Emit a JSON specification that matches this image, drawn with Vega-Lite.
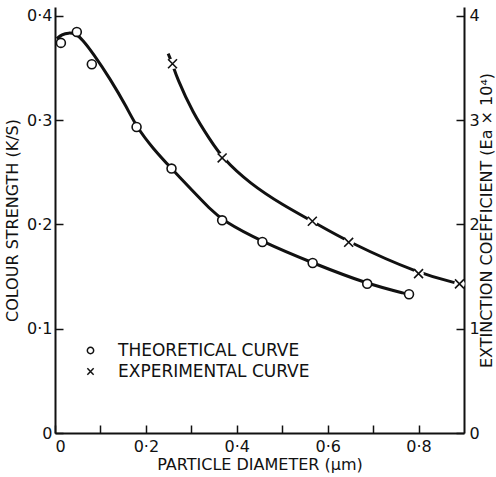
{
  "$schema": "https://vega.github.io/schema/vega-lite/v6.json",
  "width": 409,
  "height": 426,
  "autosize": {"type": "none"},
  "padding": {"left": 55, "top": 7, "right": 32, "bottom": 44},
  "background": "white",
  "config": {
    "view": {"stroke": null},
    "font": "DejaVu Sans",
    "axis": {
      "domainColor": "#111",
      "domainWidth": 2,
      "tickColor": "#111",
      "tickWidth": 1.5,
      "tickSize": -8,
      "grid": false,
      "labelFont": "DejaVu Sans",
      "labelFontSize": 16,
      "labelColor": "#111",
      "titleFont": "DejaVu Sans",
      "titleFontSize": 16,
      "titleFontWeight": "normal",
      "titleColor": "#111"
    },
    "legend": {
      "labelFont": "DejaVu Sans",
      "labelFontSize": 17,
      "labelColor": "#111",
      "labelLimit": 400
    }
  },
  "datasets": {
    "theoretical_points": [
      {"d": 0.013, "ks": 0.374},
      {"d": 0.048, "ks": 0.3845},
      {"d": 0.081, "ks": 0.3535},
      {"d": 0.1795, "ks": 0.2934},
      {"d": 0.2564, "ks": 0.2535},
      {"d": 0.3678, "ks": 0.2039},
      {"d": 0.4564, "ks": 0.1831},
      {"d": 0.567, "ks": 0.163},
      {"d": 0.687, "ks": 0.143},
      {"d": 0.779, "ks": 0.133}
    ],
    "theoretical_curve": [
      {"d": 0.004, "ks": 0.378},
      {"d": 0.015, "ks": 0.382},
      {"d": 0.03, "ks": 0.3838},
      {"d": 0.045, "ks": 0.3828},
      {"d": 0.06, "ks": 0.3775},
      {"d": 0.0842, "ks": 0.3637},
      {"d": 0.121, "ks": 0.3398},
      {"d": 0.1575, "ks": 0.3126},
      {"d": 0.1795, "ks": 0.2934},
      {"d": 0.216, "ks": 0.2725},
      {"d": 0.2564, "ks": 0.2535},
      {"d": 0.304, "ks": 0.2315},
      {"d": 0.3407, "ks": 0.215},
      {"d": 0.3678, "ks": 0.2039},
      {"d": 0.4564, "ks": 0.1831},
      {"d": 0.567, "ks": 0.163},
      {"d": 0.687, "ks": 0.1428},
      {"d": 0.779, "ks": 0.1328},
      {"d": 0.787, "ks": 0.1318}
    ],
    "experimental_points": [
      {"d": 0.2586, "ea": 3.54},
      {"d": 0.3678, "ea": 2.637},
      {"d": 0.5663, "ea": 2.03},
      {"d": 0.6462, "ea": 1.828},
      {"d": 0.8, "ea": 1.528},
      {"d": 0.89, "ea": 1.43}
    ],
    "experimental_curve": [
      {"d": 0.249, "ea": 3.637},
      {"d": 0.2586, "ea": 3.54},
      {"d": 0.2674, "ea": 3.413},
      {"d": 0.304, "ea": 3.062},
      {"d": 0.3407, "ea": 2.815},
      {"d": 0.3678, "ea": 2.637},
      {"d": 0.4286, "ea": 2.391},
      {"d": 0.5018, "ea": 2.183},
      {"d": 0.5663, "ea": 2.03},
      {"d": 0.6462, "ea": 1.828},
      {"d": 0.8, "ea": 1.528},
      {"d": 0.89, "ea": 1.43}
    ]
  },
  "layer": [
    {
      "layer": [
        {
          "data": {"name": "theoretical_curve"},
          "mark": {"type": "line", "interpolate": "basis", "color": "#111", "strokeWidth": 3},
          "encoding": {
            "x": {
              "field": "d", "type": "quantitative",
              "scale": {"domain": [0, 0.9], "nice": false},
              "axis": {
                "title": "PARTICLE DIAMETER (μm)",
                "values": [0, 0.1, 0.2, 0.3, 0.4, 0.5, 0.6, 0.7, 0.8],
                "labelExpr": "datum.value == 0 ? '0' : (round(datum.value * 10) % 2 == 0 ? replace(format(datum.value, '.1f'), '.', '·') : '')",
                "labelPadding": 13,
                "titlePadding": 2
              }
            },
            "y": {
              "field": "ks", "type": "quantitative",
              "scale": {"domain": [0, 0.4084], "nice": false},
              "axis": {
                "orient": "left",
                "title": "COLOUR STRENGTH (K/S)",
                "values": [0, 0.1, 0.2, 0.3, 0.4],
                "labelExpr": "datum.value == 0 ? '0' : replace(format(datum.value, '.1f'), '.', '·')",
                "labelPadding": 11,
                "titlePadding": 6
              }
            }
          }
        },
        {
          "data": {"name": "theoretical_points"},
          "transform": [{"calculate": "'THEORETICAL CURVE'", "as": "series"}],
          "mark": {"type": "point", "filled": true, "fill": "white", "stroke": "#111", "strokeWidth": 1.6, "size": 80, "opacity": 1},
          "encoding": {
            "x": {"field": "d", "type": "quantitative"},
            "y": {"field": "ks", "type": "quantitative"},
            "shape": {
              "field": "series", "type": "nominal",
              "scale": {"domain": ["THEORETICAL CURVE", "EXPERIMENTAL CURVE"], "range": ["circle", "M-1,-1L1,1M-1,1L1,-1"]},
              "legend": {
                "title": null,
                "orient": "none",
                "legendX": 27,
                "legendY": 335,
                "symbolSize": 40,
                "rowPadding": 3,
                "labelOffset": 19,
                "encode": {
                  "symbols": {
                    "update": {
                      "fill": {"value": "white"},
                      "stroke": {"value": "#111"},
                      "strokeWidth": {"value": 1.5},
                      "opacity": {"value": 1}
                    }
                  }
                }
              }
            }
          }
        }
      ]
    },
    {
      "layer": [
        {
          "data": {"name": "experimental_curve"},
          "mark": {"type": "line", "interpolate": "basis", "color": "#111", "strokeWidth": 3},
          "encoding": {
            "x": {"field": "d", "type": "quantitative"},
            "y": {
              "field": "ea", "type": "quantitative",
              "scale": {"domain": [0, 4.084], "nice": false},
              "axis": {
                "orient": "right",
                "title": "EXTINCTION COEFFICIENT (Ea × 10⁴)",
                "titleAngle": -90,
                "values": [0, 1, 2, 3, 4],
                "format": "d",
                "labelPadding": 13,
                "titlePadding": 15
              }
            }
          }
        },
        {
          "data": {"name": "experimental_points"},
          "mark": {"type": "point", "filled": true, "fill": "white", "stroke": null, "size": 110, "shape": "circle", "opacity": 1},
          "encoding": {
            "x": {"field": "d", "type": "quantitative"},
            "y": {"field": "ea", "type": "quantitative"}
          }
        },
        {
          "data": {"name": "experimental_points"},
          "transform": [{"calculate": "'EXPERIMENTAL CURVE'", "as": "series"}],
          "mark": {"type": "point", "filled": false, "stroke": "#111", "strokeWidth": 1.6, "size": 80, "opacity": 1},
          "encoding": {
            "x": {"field": "d", "type": "quantitative"},
            "y": {"field": "ea", "type": "quantitative"},
            "shape": {"field": "series", "type": "nominal"}
          }
        }
      ]
    }
  ],
  "resolve": {"scale": {"y": "independent"}}
}
